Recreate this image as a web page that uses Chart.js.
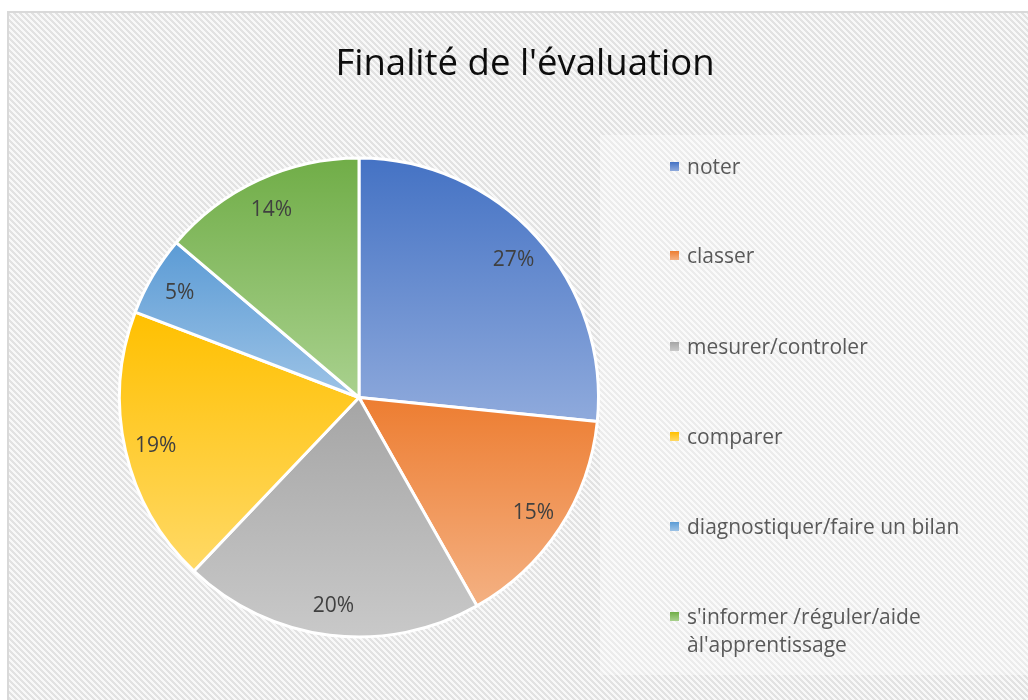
<!DOCTYPE html>
<html>
<head>
<meta charset="utf-8">
<script src="https://cdn.jsdelivr.net/npm/chart.js@4"></script>
<style>
  html, body { margin: 0; padding: 0; background: #fff; }
  #wrap { position: relative; width: 1028px; height: 700px; overflow: hidden; }
  #title { position: absolute; left: 22px; right: 0; top: 36px; line-height: 50px; text-align: center;
    font-family: "Open Sans", sans-serif; font-size: 36.5px; color: #0d0d0d; white-space: nowrap; }
  .leg { position: absolute; left: 670px; font-family: "Open Sans", sans-serif; font-size: 21px;
    color: #595959; line-height: 28px; }
  .leg .sw { position: absolute; left: 0; top: 10px; width: 9px; height: 9px; }
  .leg .tx { position: absolute; left: 17px; top: 0; width: 320px; }
</style>
</head>
<body>
<div id="wrap">
  <canvas id="c" width="1028" height="700"></canvas>
  <div id="title"></div>
</div>
<script>
const chartTitle = "Finalité de l'évaluation";
const categories = ["noter", "classer", "mesurer/controler", "comparer", "diagnostiquer/faire un bilan", "s'informer /réguler/aide àl'apprentissage"];
const percentValues = [26.6, 15.2, 20.3, 18.7, 5.4, 13.8];
const topColors = ["#4472C4", "#ED7D31", "#A5A5A5", "#FFC000", "#5B9BD5", "#70AD47"];
const bottomColors = ["#8FAADC", "#F4B183", "#C9C9C9", "#FFD966", "#9DC3E6", "#A9D18E"];

document.getElementById('title').textContent = chartTitle;

// hatch pattern
function makePattern(ctx) {
  const t = document.createElement('canvas');
  t.width = 6; t.height = 6;
  const tc = t.getContext('2d');
  for (let y = 0; y < 6; y++) {
    for (let x = 0; x < 6; x++) {
      const d = ((x - y) % 6 + 6) % 6;
      tc.fillStyle = d < 3 ? '#e2e2e2' : '#f8f8f8';
      tc.fillRect(x, y, 1, 1);
    }
  }
  return ctx.createPattern(t, 'repeat');
}

const bgPlugin = {
  id: 'bg',
  beforeDraw(chart) {
    const ctx = chart.ctx;
    ctx.save();
    ctx.fillStyle = '#ffffff';
    ctx.fillRect(0, 0, chart.width, chart.height);
    ctx.fillStyle = makePattern(ctx);
    ctx.fillRect(9, 13, chart.width - 9, chart.height - 13);
    ctx.fillStyle = 'rgba(255,255,255,0.35)';
    ctx.fillRect(600, 135, chart.width - 600, 540);
    ctx.strokeStyle = '#d9d9d9';
    ctx.lineWidth = 2;
    ctx.beginPath();
    ctx.moveTo(8, chart.height);
    ctx.lineTo(8, 12);
    ctx.lineTo(chart.width, 12);
    ctx.stroke();
    ctx.restore();
  }
};

function sliceGradient(context) {
  const chart = context.chart;
  const area = chart.chartArea;
  const i = context.dataIndex;
  if (!area) return topColors[i];
  const cx = (area.left + area.right) / 2;
  const cy = (area.top + area.bottom) / 2;
  const r = Math.min(area.right - area.left, area.bottom - area.top) / 2;
  const total = percentValues.reduce((a, b) => a + b, 0);
  let cum = 0;
  for (let k = 0; k < i; k++) cum += percentValues[k];
  const a0 = -Math.PI / 2 + 2 * Math.PI * cum / total;
  const a1 = a0 + 2 * Math.PI * percentValues[i] / total;
  const ys = [cy, cy + r * Math.sin(a0), cy + r * Math.sin(a1)];
  if (a0 <= Math.PI / 2 && a1 >= Math.PI / 2) ys.push(cy + r);
  if (a0 <= -Math.PI / 2 + 1e-6 || a1 >= 3 * Math.PI / 2 - 1e-6) ys.push(cy - r);
  const y0 = Math.min(...ys), y1 = Math.max(...ys);
  const g = chart.ctx.createLinearGradient(0, y0, 0, y1 + 0.01);
  g.addColorStop(0, topColors[i]);
  g.addColorStop(1, bottomColors[i]);
  return g;
}

const labelPlugin = {
  id: 'pctLabels',
  afterDatasetsDraw(chart) {
    const ctx = chart.ctx;
    const meta = chart.getDatasetMeta(0);
    ctx.save();
    ctx.font = '21px "Open Sans", sans-serif';
    ctx.fillStyle = '#404040';
    ctx.textAlign = 'center';
    ctx.textBaseline = 'middle';
    meta.data.forEach((arc, i) => {
      const mid = (arc.startAngle + arc.endAngle) / 2;
      const rr = arc.outerRadius * 0.87;
      ctx.fillText(Math.round(percentValues[i]) + '%', arc.x + rr * Math.cos(mid), arc.y + rr * Math.sin(mid) + 2);
    });
    ctx.restore();
  }
};

new Chart(document.getElementById('c'), {
  type: 'pie',
  data: {
    labels: categories,
    datasets: [{
      data: percentValues,
      backgroundColor: sliceGradient,
      borderColor: '#ffffff',
      borderWidth: 3,
      hoverOffset: 0
    }]
  },
  options: {
    responsive: false,
    animation: false,
    layout: { padding: { left: 118, right: 428, top: 155, bottom: 60 } },
    plugins: { legend: { display: false }, tooltip: { enabled: false }, title: { display: false } }
  },
  plugins: [bgPlugin, labelPlugin]
});

// legend (HTML text)
const legendTops = [152, 241, 332, 422, 512, 602];
const wrap = document.getElementById('wrap');
categories.forEach((name, i) => {
  const d = document.createElement('div');
  d.className = 'leg';
  d.style.top = legendTops[i] + 'px';
  const sw = document.createElement('div');
  sw.className = 'sw';
  sw.style.background = 'linear-gradient(' + topColors[i] + ',' + bottomColors[i] + ')';
  const tx = document.createElement('div');
  tx.className = 'tx';
  tx.textContent = name;
  d.appendChild(sw); d.appendChild(tx);
  wrap.appendChild(d);
});
</script>
</body>
</html>
